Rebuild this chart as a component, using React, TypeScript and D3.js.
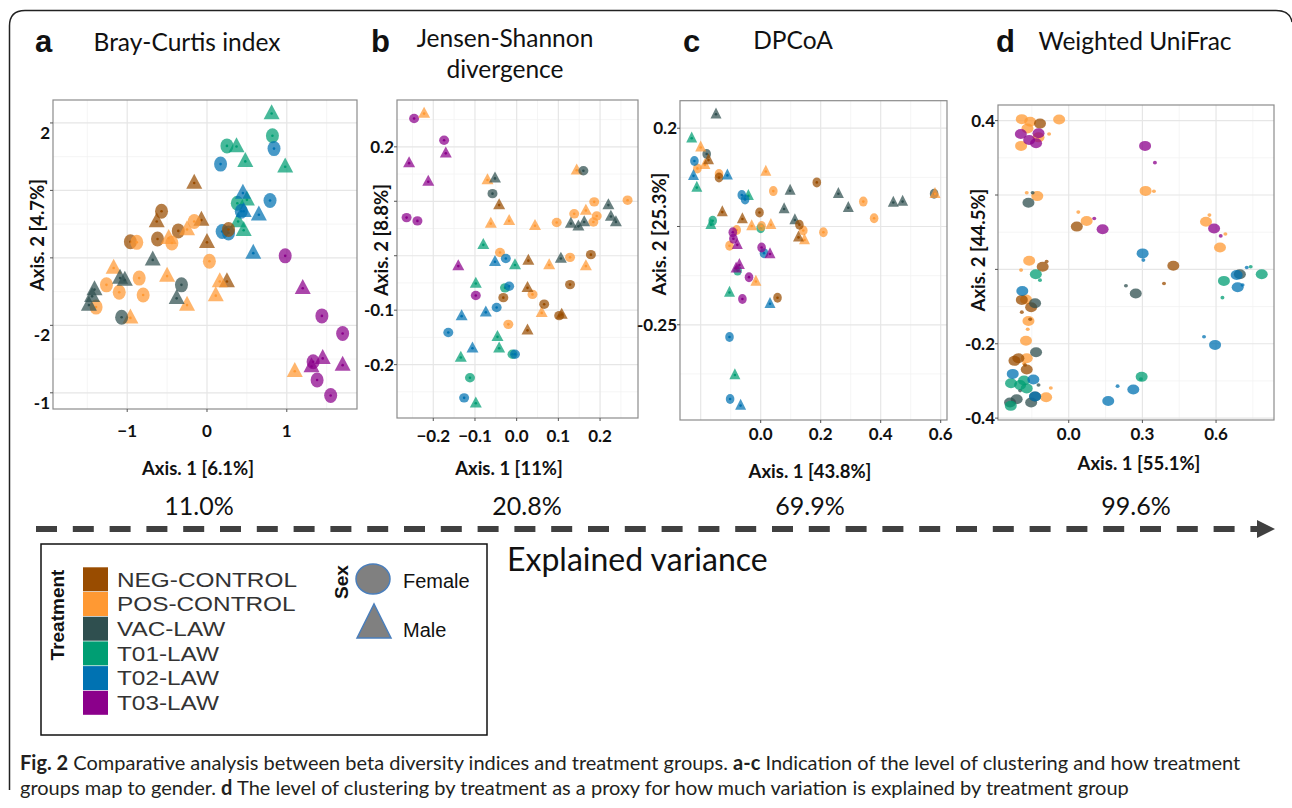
import React from 'react';
import * as d3 from 'd3';

// treatment groups + colours
const treatments = ['NEG-CONTROL', 'POS-CONTROL', 'VAC-LAW', 'T01-LAW', 'T02-LAW', 'T03-LAW'];
const colors = ['#994c00', '#ff9933', '#2f4f4f', '#009e73', '#0072b2', '#8b008b'];
const explained = ['11.0%', '20.8%', '69.9%', '99.6%'];

// [group, sex (F/M) or size (L/S), axis1, axis2]
type Pt = [number, string, number, number];

const brayPoints: Pt[] = [
  [3, 'M', 0.81, 2.14], [3, 'F', 0.82, 1.81], [3, 'F', 0.25, 1.66], [3, 'M', 0.37, 1.65], [3, 'M', 0.48, 1.43],
  [3, 'M', 0.98, 1.35], [3, 'F', 0.38, 0.81], [3, 'M', 0.5, 0.86], [3, 'M', 0.39, 0.54], [3, 'M', 0.46, 0.41],
  [4, 'F', 0.84, 1.62], [4, 'F', 0.17, 1.39], [4, 'M', 0.45, 0.96], [4, 'F', 0.43, 0.69], [4, 'M', 0.46, 0.69],
  [4, 'F', 0.79, 0.85], [4, 'M', 0.65, 0.64], [4, 'F', 0.19, 0.39], [4, 'F', 0.27, 0.37], [4, 'M', 0.58, 0.07],
  [0, 'M', -0.16, 1.11], [0, 'F', -0.57, 0.69], [0, 'M', -0.63, 0.54], [0, 'F', -0.36, 0.4], [0, 'M', -0.07, 0.56],
  [0, 'F', -0.96, 0.24], [0, 'F', -0.62, 0.28], [0, 'M', 0.0, 0.23], [0, 'M', 0.25, -0.35], [0, 'F', 0.27, 0.42],
  [1, 'F', -0.16, 0.54], [1, 'M', -0.25, 0.42], [1, 'F', -0.88, 0.23], [1, 'M', -0.48, 0.29], [1, 'F', -0.44, 0.22],
  [1, 'F', 0.03, -0.05], [1, 'M', -1.17, -0.15], [1, 'M', -0.5, -0.27], [1, 'F', -0.85, -0.3], [1, 'F', -1.26, -0.4],
  [1, 'F', -1.1, -0.51], [1, 'F', -0.8, -0.55], [1, 'M', 0.16, -0.35], [1, 'M', 0.11, -0.56], [1, 'M', -0.25, -0.7],
  [1, 'F', -1.39, -0.73], [1, 'M', -0.96, -0.89], [1, 'M', 1.1, -1.68],
  [2, 'M', -0.68, -0.03], [2, 'M', -1.09, -0.3], [2, 'M', -1.03, -0.33], [2, 'F', -0.32, -0.4], [2, 'M', -1.41, -0.47],
  [2, 'M', -1.44, -0.57], [2, 'M', -1.48, -0.7], [2, 'M', -0.38, -0.6], [2, 'F', -1.07, -0.88],
  [5, 'F', 0.98, 0.03], [5, 'M', 1.2, -0.45], [5, 'F', 1.44, -0.86], [5, 'F', 1.7, -1.12], [5, 'M', 1.45, -1.49],
  [5, 'M', 1.7, -1.59], [5, 'F', 1.33, -1.54], [5, 'M', 1.31, -1.61], [5, 'F', 1.38, -1.81], [5, 'F', 1.55, -2.04],
];

const jensenPoints: Pt[] = [
  [5, 'F', -0.246, 0.252], [5, 'F', -0.174, 0.212], [5, 'M', -0.17, 0.188], [5, 'M', -0.258, 0.17], [5, 'M', -0.212, 0.136],
  [5, 'F', -0.264, 0.07], [5, 'F', -0.238, 0.064], [5, 'M', -0.14, -0.019], [5, 'F', -0.098, -0.073],
  [1, 'M', -0.222, 0.261], [1, 'M', -0.07, 0.139], [1, 'M', 0.144, 0.157], [1, 'M', -0.062, 0.059], [1, 'M', -0.018, 0.064],
  [1, 'M', 0.044, 0.055], [1, 'F', 0.096, 0.061], [1, 'F', 0.138, 0.077], [1, 'M', 0.166, 0.083], [1, 'F', 0.186, 0.099],
  [1, 'F', 0.192, 0.073], [1, 'F', 0.184, 0.062], [1, 'F', 0.266, 0.102], [1, 'F', -0.04, 0.006], [1, 'F', 0.128, -0.003],
  [1, 'M', 0.078, -0.017], [1, 'M', 0.166, -0.019], [1, 'F', 0.038, -0.071], [1, 'M', 0.06, -0.105], [1, 'F', -0.02, -0.126],
  [2, 'F', 0.16, 0.156], [2, 'M', -0.052, 0.142], [2, 'F', -0.058, 0.114], [2, 'M', 0.22, 0.093], [2, 'M', 0.226, 0.072],
  [2, 'M', 0.238, 0.062], [2, 'M', 0.13, 0.059], [2, 'M', 0.148, 0.054], [2, 'M', 0.162, 0.062], [2, 'M', 0.106, -0.005],
  [0, 'M', -0.042, 0.093], [0, 'M', 0.028, -0.009], [0, 'F', 0.178, 0.002], [0, 'F', 0.128, -0.053], [0, 'M', 0.026, -0.059],
  [0, 'F', -0.032, -0.077], [0, 'F', 0.066, -0.089], [0, 'F', 0.102, -0.11], [0, 'M', 0.108, -0.108], [0, 'M', 0.026, -0.137],
  [3, 'M', -0.08, 0.02], [3, 'M', -0.004, -0.017], [3, 'M', -0.098, -0.051], [3, 'F', -0.028, -0.059], [3, 'M', -0.046, -0.149],
  [3, 'M', -0.042, -0.17], [3, 'M', -0.134, -0.187], [3, 'F', -0.01, -0.181], [3, 'F', -0.112, -0.224], [3, 'M', -0.098, -0.271],
  [4, 'F', -0.026, -0.005], [4, 'M', -0.052, -0.011], [4, 'F', -0.018, -0.056], [4, 'F', -0.048, -0.095], [4, 'M', -0.074, -0.104],
  [4, 'M', -0.132, -0.111], [4, 'F', -0.164, -0.141], [4, 'M', -0.106, -0.17], [4, 'F', -0.004, -0.181], [4, 'F', -0.126, -0.261],
];

const dpcoaPoints: Pt[] = [
  [2, 'M', -0.149, 0.232], [2, 'F', -0.18, 0.141], [2, 'M', 0.098, 0.057], [2, 'M', 0.078, 0.015], [2, 'M', 0.114, -0.01],
  [2, 'M', 0.259, 0.05], [2, 'M', 0.292, 0.018], [2, 'M', 0.442, 0.03], [2, 'M', 0.473, 0.032], [2, 'F', 0.578, 0.05],
  [3, 'M', -0.23, 0.177], [3, 'M', -0.213, 0.064], [3, 'F', -0.16, -0.012], [3, 'M', -0.166, -0.021], [3, 'M', -0.041, 0.045],
  [3, 'F', 0.0, -0.029], [3, 'F', -0.077, -0.126], [3, 'M', -0.104, -0.176], [3, 'M', -0.086, -0.365],
  [1, 'M', -0.2, 0.156], [1, 'F', -0.211, 0.108], [1, 'M', -0.186, 0.116], [1, 'F', -0.139, 0.095], [1, 'M', 0.017, 0.101],
  [1, 'F', 0.042, 0.056], [1, 'F', 0.342, 0.032], [1, 'F', 0.378, -0.006], [1, 'M', 0.581, 0.05], [1, 'M', -0.03, -0.024],
  [1, 'F', 0.003, -0.024], [1, 'M', 0.034, -0.021], [1, 'F', -0.08, -0.033], [1, 'F', 0.142, -0.034], [1, 'F', 0.209, -0.038],
  [1, 'M', 0.146, -0.056], [1, 'F', -0.104, -0.069], [1, 'M', -0.016, -0.151],
  [0, 'M', -0.174, 0.127], [0, 'F', -0.139, 0.087], [0, 'M', -0.128, 0.008], [0, 'M', -0.061, -0.008], [0, 'F', -0.004, 0.007],
  [0, 'F', 0.187, 0.076], [0, 'F', 0.129, -0.021], [0, 'M', 0.126, -0.05], [0, 'F', 0.056, -0.188],
  [4, 'F', -0.221, 0.125], [4, 'M', -0.224, 0.091], [4, 'M', -0.111, 0.092], [4, 'F', -0.063, 0.047], [4, 'F', -0.052, 0.037],
  [4, 'F', 0.011, -0.086], [4, 'M', 0.031, -0.202], [4, 'F', -0.104, -0.278], [4, 'F', -0.102, -0.42], [4, 'M', -0.067, -0.435],
  [5, 'F', -0.093, -0.038], [5, 'F', -0.091, -0.053], [5, 'M', -0.078, -0.067], [5, 'F', 0.003, -0.073], [5, 'M', 0.031, -0.088],
  [5, 'M', -0.071, -0.113], [5, 'M', -0.082, -0.121], [5, 'F', -0.039, -0.141], [5, 'F', -0.061, -0.191],
];

const unifracPoints: Pt[] = [
  [1, 'L', -0.191, 0.404], [1, 'L', -0.157, 0.397], [1, 'L', -0.168, 0.379], [1, 'L', -0.039, 0.403], [1, 'L', -0.123, 0.355],
  [1, 'L', -0.194, 0.332], [1, 'S', -0.08, 0.364], [1, 'L', -0.128, 0.197], [1, 'S', -0.171, 0.206], [1, 'L', 0.073, 0.13],
  [1, 'S', 0.039, 0.154], [1, 'L', 0.313, 0.211], [1, 'S', 0.347, 0.21], [1, 'L', 0.559, 0.128], [1, 'S', 0.573, 0.146],
  [1, 'L', 0.616, 0.059], [1, 'S', 0.638, 0.095], [1, 'L', -0.161, 0.023], [1, 'S', -0.194, -0.002], [1, 'L', -0.174, -0.081],
  [1, 'L', -0.164, -0.139], [1, 'S', -0.167, -0.161], [1, 'L', -0.174, -0.192], [1, 'L', -0.171, -0.239], [1, 'S', -0.182, -0.253],
  [1, 'L', -0.092, -0.344], [1, 'S', -0.073, -0.319],
  [0, 'L', -0.117, 0.392], [0, 'L', 0.033, 0.115], [0, 'L', -0.106, 0.007], [0, 'S', -0.09, 0.021], [0, 'L', 0.426, 0.01],
  [0, 'S', 0.388, -0.038], [0, 'L', -0.191, -0.082], [0, 'L', -0.153, -0.102], [0, 'S', -0.191, -0.115], [0, 'S', -0.157, -0.134],
  [0, 'L', -0.205, -0.239], [0, 'L', -0.221, -0.246], [0, 'L', -0.171, -0.269], [0, 'S', -0.178, -0.257],
  [5, 'L', -0.195, 0.364], [5, 'L', -0.123, 0.366], [5, 'L', -0.161, 0.348], [5, 'L', -0.133, 0.339], [5, 'L', 0.311, 0.332],
  [5, 'S', 0.351, 0.287], [5, 'L', 0.138, 0.108], [5, 'S', 0.104, 0.137], [5, 'L', 0.592, 0.11], [5, 'S', 0.619, 0.09],
  [2, 'L', -0.164, 0.179], [2, 'S', -0.147, 0.206], [2, 'L', 0.273, -0.065], [2, 'S', 0.233, -0.044], [2, 'L', -0.137, -0.091],
  [2, 'L', -0.133, -0.223], [2, 'L', 0.697, -0.013], [2, 'L', -0.212, -0.349], [2, 'L', -0.239, -0.358], [2, 'L', -0.153, -0.358],
  [2, 'L', -0.137, -0.342], [2, 'S', -0.198, -0.326], [2, 'S', -0.123, -0.311],
  [3, 'L', -0.134, -0.013], [3, 'S', -0.117, -0.029], [3, 'L', 0.632, -0.031], [3, 'S', 0.626, -0.076], [3, 'L', 0.786, -0.013],
  [3, 'S', 0.741, 0.007], [3, 'L', 0.297, -0.289], [3, 'S', 0.294, -0.295], [3, 'L', -0.235, -0.306], [3, 'L', -0.198, -0.311],
  [3, 'L', -0.171, -0.32], [3, 'L', -0.182, -0.299], [3, 'L', -0.236, -0.367],
  [4, 'L', -0.189, -0.058], [4, 'L', 0.301, 0.043], [4, 'S', 0.304, 0.025], [4, 'L', 0.684, -0.015], [4, 'L', 0.688, -0.048],
  [4, 'S', 0.725, 0.005], [4, 'S', 0.708, -0.042], [4, 'L', 0.596, -0.203], [4, 'S', 0.551, -0.181], [4, 'L', -0.228, -0.281],
  [4, 'L', -0.144, -0.296], [4, 'L', -0.137, -0.342], [4, 'L', 0.263, -0.323], [4, 'S', 0.199, -0.314], [4, 'L', 0.161, -0.354],
];

// axis ticks (labels as printed in the figure)
const brayXTicks = [-1, 0, 1];
const brayYTicks: [number, string][] = [[2, '2'], [-1, '-2'], [-2, '-1']];
const jensenXTicks = [-0.2, -0.1, 0, 0.1, 0.2];
const jensenYTicks: [number, string][] = [[0.2, '0.2'], [-0.1, '-0.1'], [-0.2, '-0.2']];
const dpcoaXTicks = [0, 0.2, 0.4, 0.6];
const dpcoaYTicks: [number, string][] = [[0.2, '0.2'], [-0.25, '-0.25']];
const unifracXTicks = [0, 0.3, 0.6];
const unifracYTicks: [number, string][] = [[0.4, '0.4'], [-0.2, '-0.2'], [-0.4, '-0.4']];

const FONT = "Lato, 'Open Sans', sans-serif";
const ARIAL = "'Liberation Sans', Arial, sans-serif";

type Spec = {
  pts: Pt[];
  box: [number, number, number, number];
  xDom: [number, number];
  yDom: [number, number];
  xMajor: number[];
  xMinor: number[];
  yMajor: number[];
  yMinor: number[];
  xTicks: number[];
  xFmt: (v: number) => string;
  yTicks: [number, string][];
  yDy: number;
  xLabelY: number;
  xTitle: string;
  xTitleX: number;
  xTitleY: number;
  yTitle: string;
  yTitleX: number;
  yTitleY: number;
  circ: [number, number];
  tri: [number, number];
};

const Panel = ({ s }: { s: Spec }) => {
  const [x0, x1, y0, y1] = s.box;
  const x = d3.scaleLinear().domain(s.xDom).range([x0, x1]);
  const y = d3.scaleLinear().domain(s.yDom).range([y1, y0]);
  const tri = (w: number, h: number) => `M0,${-h * 0.62}L${w / 2},${h * 0.38}L${-w / 2},${h * 0.38}Z`;
  return (
    <g>
      <rect x={x0} y={y0} width={x1 - x0} height={y1 - y0} fill="#fff" />
      {s.xMinor.map((v) => (
        <line key={'xm' + v} x1={x(v)} x2={x(v)} y1={y0} y2={y1} stroke="#f2f2f2" strokeWidth={0.8} />
      ))}
      {s.yMinor.map((v) => (
        <line key={'ym' + v} x1={x0} x2={x1} y1={y(v)} y2={y(v)} stroke="#f2f2f2" strokeWidth={0.8} />
      ))}
      {s.xMajor.map((v) => (
        <line key={'xM' + v} x1={x(v)} x2={x(v)} y1={y0} y2={y1} stroke="#e6e6e6" strokeWidth={1.2} />
      ))}
      {s.yMajor.map((v) => (
        <line key={'yM' + v} x1={x0} x2={x1} y1={y(v)} y2={y(v)} stroke="#e6e6e6" strokeWidth={1.2} />
      ))}
      {s.pts.map((p, i) => {
        const [g, k, px, py] = p;
        const cx = x(px);
        const cy = y(py);
        const c = colors[g];
        if (k === 'L' || k === 'S') {
          const r = k === 'L' ? [6, 5] : [2, 1.8];
          return <ellipse key={i} cx={cx} cy={cy} rx={r[0]} ry={r[1]} fill={c} fillOpacity={0.75} />;
        }
        return (
          <g key={i} transform={`translate(${cx},${cy})`}>
            {k === 'F' ? (
              <ellipse rx={s.circ[0]} ry={s.circ[1]} fill={c} fillOpacity={0.72} />
            ) : (
              <path d={tri(s.tri[0], s.tri[1])} fill={c} fillOpacity={0.72} />
            )}
            <circle r={1.3} fill={c} />
          </g>
        );
      })}
      <rect x={x0} y={y0} width={x1 - x0} height={y1 - y0} fill="none" stroke="#8c8c8c" strokeWidth={1.2} />
      {s.xTicks.map((v) => (
        <g key={'xt' + v}>
          <line x1={x(v)} x2={x(v)} y1={y1} y2={y1 + 3} stroke="#555" />
          <text x={x(v)} y={s.xLabelY} textAnchor="middle" fontFamily={FONT} fontWeight={700} fontSize={17} fill="#111">
            {s.xFmt(v)}
          </text>
        </g>
      ))}
      {s.yMajor.map((v) => (
        <line key={'yt' + v} x1={x0 - 3} x2={x0} y1={y(v)} y2={y(v)} stroke="#555" />
      ))}
      {s.yTicks.map(([v, lab]) => (
        <text key={'yl' + v} x={x0 - 3} y={y(v) + s.yDy + 6} textAnchor="end" fontFamily={FONT} fontWeight={700} fontSize={17} fill="#111">
          {lab}
        </text>
      ))}
      <text x={s.xTitleX} y={s.xTitleY} textAnchor="middle" fontFamily={FONT} fontWeight={700} fontSize={18.5} fill="#111">
        {s.xTitle}
      </text>
      <text transform={`translate(${s.yTitleX},${s.yTitleY}) rotate(-90)`} textAnchor="middle" fontFamily={FONT} fontWeight={700} fontSize={18.5} fill="#111">
        {s.yTitle}
      </text>
    </g>
  );
};

const f1 = d3.format('.1f');
const fInt = d3.format('d');

const specs: Spec[] = [
  {
    pts: brayPoints, box: [53, 357, 100, 409], xDom: [-1.93, 1.88], yDom: [-2.24, 2.34],
    xMajor: [-1, 0, 1], xMinor: [-1.5, -0.5, 0.5, 1.5], yMajor: [-2, -1, 0, 1, 2], yMinor: [-1.5, -0.5, 0.5, 1.5],
    xTicks: brayXTicks, xFmt: fInt, yTicks: brayYTicks, yDy: 10, xLabelY: 437,
    xTitle: 'Axis. 1 [6.1%]', xTitleX: 198, xTitleY: 475, yTitle: 'Axis. 2 [4.7%]', yTitleX: 44, yTitleY: 235,
    circ: [6.5, 7.5], tri: [16, 15],
  },
  {
    pts: jensenPoints, box: [397, 638, 100, 418], xDom: [-0.287, 0.291], yDom: [-0.298, 0.286],
    xMajor: [-0.2, -0.1, 0, 0.1, 0.2], xMinor: [-0.25, -0.15, -0.05, 0.05, 0.15, 0.25],
    yMajor: [-0.2, -0.1, 0, 0.1, 0.2], yMinor: [-0.25, -0.15, -0.05, 0.05, 0.15, 0.25],
    xTicks: jensenXTicks, xFmt: f1, yTicks: jensenYTicks, yDy: 0, xLabelY: 442,
    xTitle: 'Axis. 1 [11%]', xTitleX: 509, xTitleY: 475, yTitle: 'Axis. 2 [8.8%]', yTitleX: 388, yTitleY: 240,
    circ: [5, 4.7], tri: [12, 11],
  },
  {
    pts: dpcoaPoints, box: [680, 947, 100.7, 420], xDom: [-0.269, 0.621], yDom: [-0.468, 0.263],
    xMajor: [-0.2, 0, 0.2, 0.4, 0.6], xMinor: [-0.1, 0.1, 0.3, 0.5],
    yMajor: [0.2, -0.025, -0.25], yMinor: [0.0875, -0.1375, -0.3625],
    xTicks: dpcoaXTicks, xFmt: f1, yTicks: dpcoaYTicks, yDy: 0, xLabelY: 440,
    xTitle: 'Axis. 1 [43.8%]', xTitleX: 810, xTitleY: 478, yTitle: 'Axis. 2 [25.3%]', yTitleX: 666, yTitleY: 234,
    circ: [4.3, 5], tri: [11, 11],
  },
  {
    pts: unifracPoints, box: [998, 1274, 105, 420], xDom: [-0.288, 0.836], yDom: [-0.405, 0.442],
    xMajor: [0, 0.3, 0.6], xMinor: [-0.15, 0.15, 0.45, 0.75],
    yMajor: [-0.4, -0.2, 0, 0.2, 0.4], yMinor: [-0.3, -0.1, 0.1, 0.3],
    xTicks: unifracXTicks, xFmt: f1, yTicks: unifracYTicks, yDy: 0, xLabelY: 440,
    xTitle: 'Axis. 1 [55.1%]', xTitleX: 1139, xTitleY: 470, yTitle: 'Axis. 2 [44.5%]', yTitleX: 985, yTitleY: 250,
    circ: [6, 5], tri: [12, 11],
  },
];

const titles = [
  { letter: 'a', lx: 35, text: ['Bray-Curtis index'], cx: 187, ty: [51] },
  { letter: 'b', lx: 371, text: ['Jensen-Shannon', 'divergence'], cx: 505, ty: [47, 78] },
  { letter: 'c', lx: 683, text: ['DPCoA'], cx: 793, ty: [49] },
  { letter: 'd', lx: 996, text: ['Weighted UniFrac'], cx: 1135, ty: [50] },
];
const percentX = [199, 527, 810, 1136];

export default function App() {
  const arrowX = d3.scaleLinear().domain([0, 1]).range([36, 1260]);
  return (
    <svg width={1292} height={808} style={{ position: 'absolute', left: 0, top: 0, background: '#fff' }}>
      <rect width={1292} height={808} fill="#fff" />
      <path d="M9.5,790 L9.5,26 Q9.5,10.5 25,10.5 L1276,10.5 Q1290,10.5 1292,22" fill="none" stroke="#222" strokeWidth={1.5} />
      {titles.map((t) => (
        <g key={t.letter}>
          <text x={t.lx} y={52} fontFamily={ARIAL} fontWeight={700} fontSize={31} fill="#111">{t.letter}</text>
          {t.text.map((line, i) => (
            <text key={i} x={t.cx} y={t.ty[i]} textAnchor="middle" fontFamily={FONT} fontSize={24.5} fill="#111">{line}</text>
          ))}
        </g>
      ))}
      {specs.map((s, i) => <Panel key={i} s={s} />)}

      {explained.map((p, i) => (
        <text key={p} x={percentX[i]} y={515} textAnchor="middle" fontFamily={FONT} fontSize={25} fill="#111">{p}</text>
      ))}
      <line x1={arrowX(0)} x2={arrowX(1)} y1={529} y2={529} stroke="#404040" strokeWidth={6} strokeDasharray="21 15.8" />
      <path d="M1257,520 L1275,529 L1257,538 Z" fill="#404040" />
      <text x={507} y={571} fontFamily={FONT} fontSize={32} fill="#111">Explained variance</text>

      {/* legend */}
      <rect x={41} y={544} width={446} height={191} fill="#fff" stroke="#111" strokeWidth={1.5} />
      <text transform="translate(64,615) rotate(-90)" textAnchor="middle" fontFamily={ARIAL} fontWeight={700} fontSize={19} fill="#111">Treatment</text>
      {treatments.map((t, i) => (
        <g key={t}>
          <rect x={83} y={567.3 + i * 24.7} width={25} height={24} fill={colors[i]} />
          <text transform={`translate(117,${586.5 + i * 24.7}) scale(1.16,1)`} fontFamily={ARIAL} fontSize={21} fill="#333">{t}</text>
        </g>
      ))}
      <text transform="translate(348,582) rotate(-90)" textAnchor="middle" fontFamily={ARIAL} fontWeight={700} fontSize={19} fill="#111">Sex</text>
      <ellipse cx={373} cy={579} rx={17} ry={15} fill="#808080" stroke="#4a7ebb" strokeWidth={1.5} />
      <path d="M357,638 L374,604 L391,638 Z" fill="#808080" stroke="#4a7ebb" strokeWidth={1.5} />
      <text x={403} y={588} fontFamily={ARIAL} fontSize={20} fill="#111">Female</text>
      <text x={403} y={637} fontFamily={ARIAL} fontSize={20} fill="#111">Male</text>

      {/* caption */}
      <text x={20} y={770} fontFamily={FONT} fontSize={20} fill="#231f20">
        <tspan fontWeight={700}>Fig. 2</tspan> Comparative analysis between beta diversity indices and treatment groups.{' '}
        <tspan fontWeight={700}>a-c</tspan> Indication of the level of clustering and how treatment
      </text>
      <text x={20} y={795} fontFamily={FONT} fontSize={20} fill="#231f20">
        groups map to gender. <tspan fontWeight={700}>d</tspan> The level of clustering by treatment as a proxy for how much variation is explained by treatment group
      </text>
    </svg>
  );
}
